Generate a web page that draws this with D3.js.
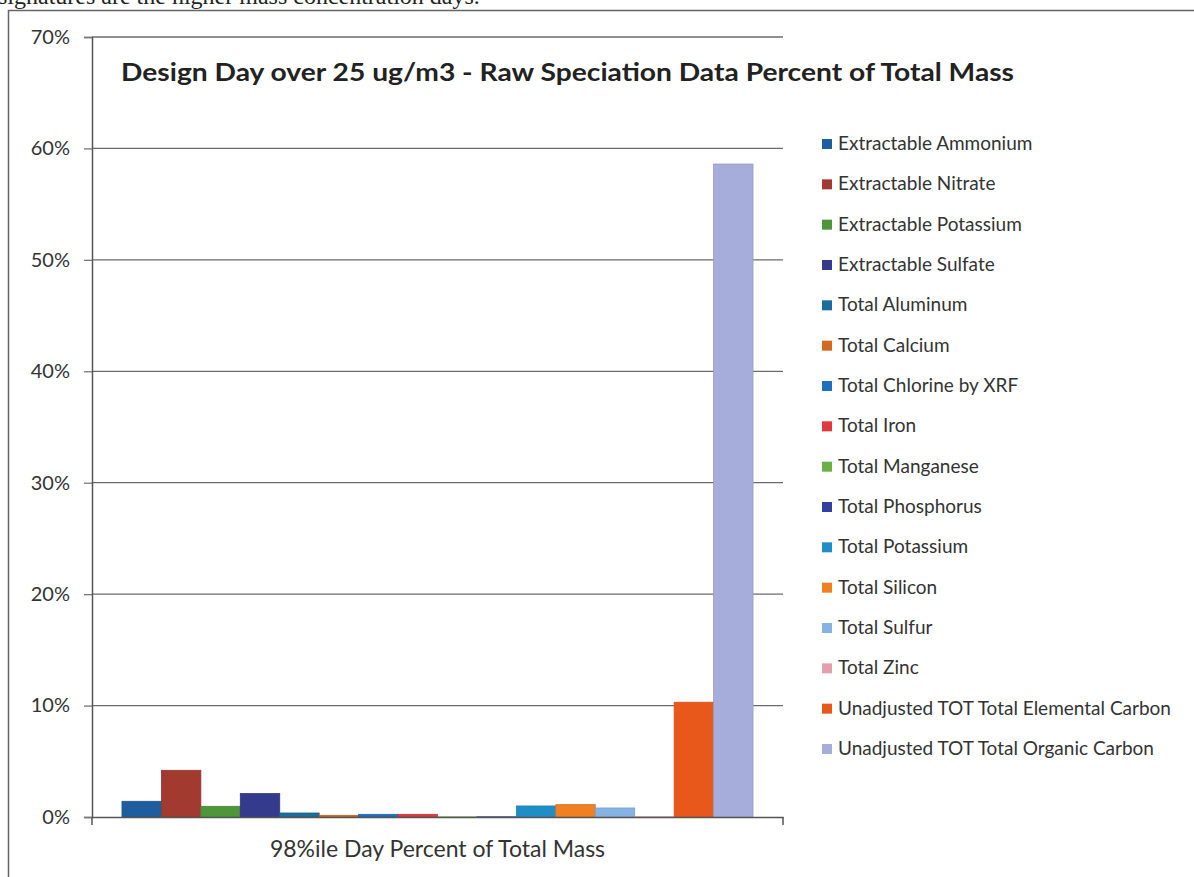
<!DOCTYPE html>
<html><head><meta charset="utf-8">
<script src="https://cdn.jsdelivr.net/npm/d3@7"></script>
<style>body{margin:0;background:#fff;}svg{display:block;}</style>
</head><body>
<svg id="c" width="1194" height="877"></svg>
<script>
const categories = ["98%ile Day Percent of Total Mass"];
const seriesNames = ["Extractable Ammonium","Extractable Nitrate","Extractable Potassium","Extractable Sulfate","Total Aluminum","Total Calcium","Total Chlorine by XRF","Total Iron","Total Manganese","Total Phosphorus","Total Potassium","Total Silicon","Total Sulfur","Total Zinc","Unadjusted TOT Total Elemental Carbon","Unadjusted TOT Total Organic Carbon"];
const seriesValues = [1.41,4.19,0.96,2.1,0.36,0.15,0.24,0.24,0.01,0.02,0.99,1.11,0.81,0.02,10.3,58.6];
const seriesColors = ["#1F5E9E","#A33A30","#4E963A","#353B8C","#1C6C9E","#D2691E","#1F6FBF","#E0383F","#6CAF45","#33409E","#1F8EC6","#F08022","#86B3E3","#E2A0AE","#E8581A","#A7ADDB"];
const yTicks = [0,10,20,30,40,50,60,70];
const title = "Design Day over 25 ug/m3 - Raw Speciation Data Percent of Total Mass";

const svg = d3.select("#c");
const font = "Lato, 'Open Sans', 'Noto Sans', sans-serif";

// cut-off document text at top (cropped in the original scan)
svg.append("text").attr("x", -2).attr("y", 4)
  .attr("font-family","'Liberation Serif', serif").attr("font-size",24)
  .attr("fill","#222").text("signatures are the higher mass concentration days.");

// outer frame
svg.append("rect").attr("x",8.5).attr("y",10.5).attr("width",1200).attr("height",900)
  .attr("fill","none").attr("stroke","#666").attr("stroke-width",1.5);

const x0 = 92, x1 = 783, yTop = 37, yBot = 817;
const y = d3.scaleLinear().domain([0,70]).range([yBot,yTop]);
const xc = d3.scaleBand().domain(categories).range([x0,x1]).paddingOuter(0.0475).paddingInner(0);
const xs = d3.scaleBand().domain(seriesNames).range([0, xc.bandwidth()]);

// gridlines
svg.append("g").selectAll("line").data(yTicks.filter(d=>d>0)).join("line")
  .attr("x1",x0).attr("x2",x1).attr("y1",d=>y(d)).attr("y2",d=>y(d))
  .attr("stroke","#6b6b6b").attr("stroke-width",1.3);

// y axis
const ya = svg.append("g").attr("transform",`translate(${x0},0)`)
  .call(d3.axisLeft(y).tickValues(yTicks).tickFormat(d=>d+"%").tickSize(8).tickPadding(14));
ya.select(".domain").attr("stroke","#555").attr("stroke-width",1.5);
ya.selectAll(".tick line").attr("stroke","#777").attr("stroke-width",1.3);
ya.selectAll("text").attr("font-family",font).attr("font-size",20).attr("fill","#333");

// bars
const g = svg.append("g").attr("transform",`translate(${xc(categories[0])},0)`);
g.selectAll("rect").data(seriesNames).join("rect")
  .attr("x",d=>xs(d)).attr("width",xs.bandwidth())
  .attr("y",(d,i)=>y(seriesValues[i])).attr("height",(d,i)=>yBot-y(seriesValues[i]))
  .attr("fill",(d,i)=>seriesColors[i]).attr("stroke",(d,i)=>d3.color(seriesColors[i]).darker(0.3)).attr("stroke-width",0.8);

// x axis
const xa = svg.append("g").attr("transform",`translate(0,${yBot})`)
  .call(d3.axisBottom(xc).tickSize(0).tickPadding(24));
xa.select(".domain").attr("stroke","#555").attr("stroke-width",1.5);
xa.selectAll("text").attr("font-family",font).attr("font-size",23).attr("fill","#333");
svg.append("g").selectAll("line").data([x0,x1]).join("line")
  .attr("x1",d=>d).attr("x2",d=>d).attr("y1",yBot).attr("y2",yBot+8)
  .attr("stroke","#555").attr("stroke-width",1.5);

// title
svg.append("text").attr("x",121).attr("y",81).attr("font-family",font).attr("font-weight","bold")
  .attr("font-size",25).attr("fill","#222").attr("textLength",893).attr("lengthAdjust","spacingAndGlyphs").text(title);

// legend
const lg = svg.append("g");
const ly = d3.scalePoint().domain(seriesNames).range([143,748]);
seriesNames.forEach((n,i)=>{
  lg.append("rect").attr("x",822).attr("y",ly(n)-4).attr("width",10).attr("height",10).attr("fill",seriesColors[i]);
  lg.append("text").attr("x",838).attr("y",ly(n)+7).attr("font-family",font).attr("font-size",19).attr("fill","#333").text(n);
});
</script>
</body></html>
